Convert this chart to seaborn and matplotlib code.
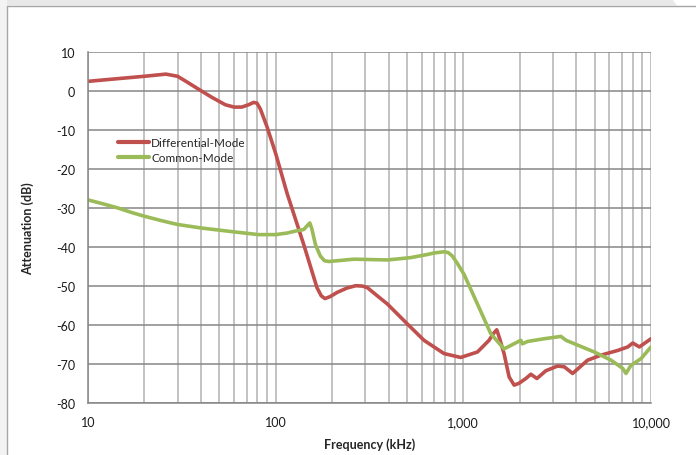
import numpy as np
import pandas as pd
import matplotlib
matplotlib.use('Agg')
import matplotlib.pyplot as plt
import matplotlib.ticker as mticker
from matplotlib.patches import Polygon
from matplotlib.lines import Line2D
import seaborn as sns

# differential-mode curve (kHz, dB)
dm_freq = [10, 14.5, 20, 26, 30, 33, 40, 45.7, 53.9, 60, 66, 71.8, 76.3, 79.5,
           82.9, 90, 100, 115, 141, 166, 175, 183, 195, 213, 240, 267, 290, 308,
           340, 394, 503, 617, 789, 968, 1189, 1371, 1450, 1507, 1560, 1648,
           1754, 1866, 1983, 2153, 2290, 2466, 2754, 3178, 3450, 3823, 4595,
           5416, 6651, 7520, 7997, 8670, 10000]
dm_att = [2.4, 3.1, 3.7, 4.25, 3.7, 2.5, 0.0, -1.7, -3.6, -4.2, -4.2, -3.6, -3.0,
          -3.2, -4.7, -9.3, -16.1, -26.3, -39.4, -50.5, -52.6, -53.3, -52.8,
          -51.7, -50.6, -50.0, -50.1, -50.5, -52.2, -54.7, -59.8, -64.0, -67.4,
          -68.4, -67.0, -64.0, -62.2, -61.3, -63.5, -67.4, -73.4, -75.5, -75.0,
          -73.8, -72.7, -73.8, -71.8, -70.6, -70.8, -72.5, -69.1, -67.8, -66.6,
          -65.7, -64.7, -65.7, -63.6]

# common-mode curve (kHz, dB)
cm_freq = [10, 12, 14.5, 17, 20, 25, 30, 40, 60, 81, 100, 115, 127, 141, 148, 152,
           156, 163, 173, 182, 192, 261, 394, 524, 643, 700, 789, 830, 874, 930,
           1009, 1189, 1400, 1648, 2024, 2065, 2198, 2698, 3311, 3524, 4989,
           6124, 7066, 7356, 7827, 8851, 10000]
cm_att = [-28.0, -29.0, -30.1, -31.2, -32.2, -33.4, -34.3, -35.2, -36.2, -36.9,
          -36.9, -36.5, -36.0, -35.6, -34.5, -33.9, -35.5, -39.5, -42.4, -43.6,
          -43.8, -43.2, -43.4, -42.8, -42.0, -41.6, -41.3, -41.5, -42.4, -44.3,
          -47.1, -54.7, -62.3, -66.2, -64.0, -64.9, -64.3, -63.6, -63.0, -64.0,
          -67.0, -69.1, -71.2, -72.5, -70.4, -68.7, -65.7]

series_names = ['Differential-Mode', 'Common-Mode']
series_colors = ['#C0504D', '#9BBB59']
y_ticks = list(range(-80, 11, 10))
x_ticks = [10, 100, 1000, 10000]
x_labels = ['10', '100', '1,000', '10,000']

df = pd.concat([
    pd.DataFrame({'freq': dm_freq, 'att': dm_att, 'mode': series_names[0]}),
    pd.DataFrame({'freq': cm_freq, 'att': cm_att, 'mode': series_names[1]}),
])

sns.set_style('white')
plt.rcParams['font.family'] = ['Lato', 'DejaVu Sans']

fig = plt.figure(figsize=(6.96, 4.56), dpi=100)
fig.patch.set_facecolor('white')

# page background / card edges
W, H = 696.0, 456.0
fig.add_artist(Polygon([(0, 1), (672 / W, 1), (677 / W, 1 - 6.5 / H), (0, 1 - 6.5 / H)],
                       closed=True, transform=fig.transFigure, facecolor='#e8e8e8',
                       edgecolor='none', zorder=0))
fig.add_artist(Polygon([(0, 0), (7 / W, 0), (7 / W, 1), (0, 1)], closed=True,
                       transform=fig.transFigure, facecolor='#f3f3f3',
                       edgecolor='none', zorder=0))
fig.add_artist(Line2D([7 / W, 1], [1 - 6.5 / H, 1 - 6.5 / H], transform=fig.transFigure,
                      color='#a6a6a6', lw=1.0, zorder=1))
fig.add_artist(Line2D([7 / W, 7 / W], [0, 1 - 6.5 / H], transform=fig.transFigure,
                      color='#a6a6a6', lw=1.0, zorder=1))

ax = fig.add_axes([88 / W, 1 - 403.7 / H, 563 / W, 351 / H])
ax.set_facecolor('white')

sns.lineplot(data=df, x='freq', y='att', hue='mode', hue_order=series_names,
             palette=series_colors, linewidth=2.6, ax=ax, sort=False,
             estimator=None, legend=False)
for ln in ax.get_lines():
    ln.set_solid_joinstyle('round')
    ln.set_solid_capstyle('round')

ax.set_xscale('log')
ax.set_xlim(10, 10000)
ax.set_ylim(-80, 10)
ax.set_yticks(y_ticks)
ax.set_yticklabels([str(v) for v in y_ticks])
ax.set_xticks(x_ticks)
ax.set_xticklabels(x_labels)
ax.xaxis.set_minor_locator(mticker.LogLocator(base=10, subs=np.arange(2, 10)))
ax.xaxis.set_minor_formatter(mticker.NullFormatter())

ax.grid(True, which='major', axis='y', color='#868686', lw=1.1)
ax.grid(True, which='both', axis='x', color='#bdbdbd', lw=1.3)
ax.set_axisbelow(True)

for s in ['top', 'right']:
    ax.spines[s].set_visible(False)
for s in ['left', 'bottom']:
    ax.spines[s].set_color('#868686')
    ax.spines[s].set_linewidth(1.1)

ax.tick_params(axis='both', which='major', direction='out', length=3.6, width=1.1,
               color='#868686', labelsize=9, labelcolor='#1a1a1a')
ax.tick_params(axis='y', pad=5.5)
ax.tick_params(axis='x', pad=6)
ax.tick_params(axis='x', which='minor', length=0)

ax.set_xlabel('Frequency (kHz)', fontsize=9, fontweight='bold', labelpad=7)
ax.set_ylabel('Attenuation (dB)', fontsize=9, fontweight='bold', labelpad=16)

handles = [Line2D([], [], color=c, lw=3) for c in series_colors]
ax.legend(handles, series_names, loc='upper left', bbox_to_anchor=(0.045, 0.771),
          frameon=False, fontsize=8.5, handlelength=2.6, handletextpad=0.2,
          labelspacing=0.35, borderaxespad=0)

fig.savefig('out.png', dpi=100)
